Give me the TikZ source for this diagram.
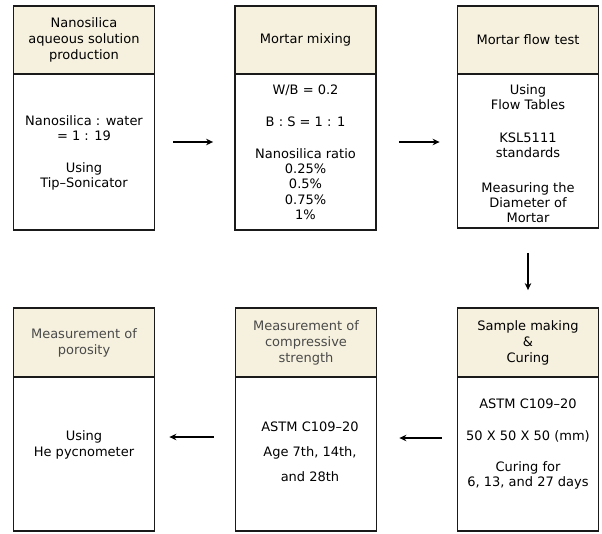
\documentclass[tikz,border=0pt]{standalone}
\usepackage{fontspec}
\setmainfont{DejaVu Sans}
\usetikzlibrary{arrows.meta}
\definecolor{hdrfill}{HTML}{F6F1DE}
\definecolor{edge}{HTML}{1A1A1A}
\definecolor{graytxt}{HTML}{4A4A4A}
\begin{document}
\begin{tikzpicture}[x=1pt,y=-1pt,
  hdr/.style={draw=edge,line width=1.8pt,fill=hdrfill,minimum width=141pt,minimum height=68pt,
    align=center,font=\fontsize{13}{16}\selectfont,inner sep=0pt},
  body/.style={draw=edge,line width=1.8pt,fill=white,minimum width=141pt,inner sep=0pt},
  txt/.style={align=center,font=\fontsize{13}{15.2}\selectfont,inner sep=0pt},
  arr/.style={line width=1.6pt,-{Stealth[length=7pt,width=6.5pt]}}]
\useasboundingbox (0,0) rectangle (602,533);
% bodies first (headers overlap their top edge)
\node[body,minimum height=156pt] (b1) at (84,152) {};
\node[body,minimum height=156pt] (b2) at (305.5,152) {};
\node[body,minimum height=154pt] (b3) at (528,151) {};
\node[body,minimum height=154pt] (b4) at (84,454) {};
\node[body,minimum height=154pt] (b5) at (306,454) {};
\node[body,minimum height=154pt] (b6) at (528,454) {};
% headers
\node[hdr] (h1) at (84,40) {Nanosilica\\aqueous solution\\production};
\node[hdr] (h2) at (305.5,40) {Mortar mixing};
\node[hdr] (h3) at (528,40) {Mortar flow test};
\node[hdr,text=graytxt,minimum height=69pt] (h4) at (84,342.5) {Measurement of\\porosity};
\node[hdr,text=graytxt,minimum height=69pt] (h5) at (306,342.5) {Measurement of\\compressive\\strength};
\node[hdr,minimum height=69pt] (h6) at (528,342.5) {Sample making\\\&\\Curing};
% body texts
\node[txt] (t1) at ([yshift=-1pt]b1.center) {Nanosilica : water\\= 1 : 19\\[16pt]Using\\Tip{\char"2013}Sonicator};
\node[txt] (t2) at (b2.center) {W/B = 0.2\\[17pt]B : S = 1 : 1\\[17pt]Nanosilica ratio\\0.25\%\\0.5\%\\0.75\%\\1\%};
\node[txt] (t3) at ([yshift=-3pt]b3.center) {Using\\Flow Tables\\[17pt]KSL5111\\standards\\[20pt]Measuring the\\Diameter of\\Mortar};
\node[txt] (t4) at ([yshift=9pt]b4.center) {Using\\He pycnometer};
\node[txt] (t5) at ([xshift=4pt,yshift=2pt]b5.center) {ASTM C109{\char"2013}20\\[10pt]Age 7th, 14th,\\[10pt]and 28th};
\node[txt] (t6) at ([yshift=10pt]b6.center) {ASTM C109{\char"2013}20\\[17pt]50 X 50 X 50 (mm)\\[15pt]Curing for\\6, 13, and 27 days};
% connectors
\draw[arr] ([xshift=18pt,yshift=10pt]b1.east) -- ([xshift=-21pt,yshift=10pt]b2.west);
\draw[arr] ([xshift=22pt,yshift=10pt]b2.east) -- ([xshift=-17pt,yshift=9pt]b3.west);
\draw[arr] ([yshift=-24pt]b3.south) -- ([yshift=17pt]h6.north);
\draw[arr] ([xshift=-15pt,yshift=16pt]b6.west) -- ([xshift=22pt,yshift=16pt]b5.east);
\draw[arr] ([xshift=-21pt,yshift=17pt]b5.west) -- ([xshift=14pt,yshift=17pt]b4.east);
\end{tikzpicture}
\end{document}
